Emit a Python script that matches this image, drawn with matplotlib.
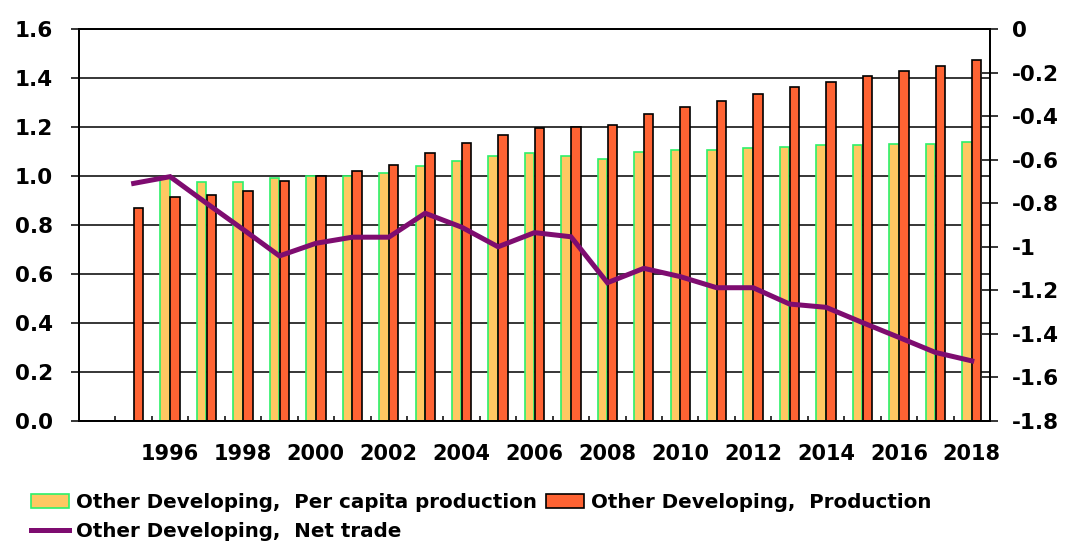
import numpy as np
import matplotlib
matplotlib.use("Agg")
import matplotlib.pyplot as plt

plt.rcParams["font.family"] = ["DejaVu Sans"]
plt.rcParams["font.weight"] = "bold"

years = np.arange(1995, 2019)

per_capita = [np.nan, 0.99, 0.974, 0.974, 0.993, 1.0, 1.0, 1.013, 1.041, 1.061,
              1.082, 1.095, 1.082, 1.068, 1.099, 1.107, 1.106, 1.113, 1.12,
              1.127, 1.127, 1.132, 1.132, 1.14]

production = [0.868, 0.914, 0.922, 0.94, 0.98, 1.0, 1.019, 1.046, 1.094, 1.133,
              1.167, 1.195, 1.201, 1.209, 1.254, 1.283, 1.307, 1.335, 1.362,
              1.382, 1.408, 1.429, 1.449, 1.475]

net_trade = [-0.709, -0.678, -0.80, -0.92, -1.042, -0.984, -0.956, -0.956,
             -0.846, -0.91, -1.0, -0.935, -0.954, -1.165, -1.099, -1.137,
             -1.188, -1.188, -1.263, -1.278, -1.348, -1.416, -1.485, -1.524]

left_ticks = [0.0, 0.2, 0.4, 0.6, 0.8, 1.0, 1.2, 1.4, 1.6]
left_labels = ["0.0", "0.2", "0.4", "0.6", "0.8", "1.0", "1.2", "1.4", "1.6"]
right_ticks = [0, -0.2, -0.4, -0.6, -0.8, -1.0, -1.2, -1.4, -1.6, -1.8]
right_labels = ["0", "-0.2", "-0.4", "-0.6", "-0.8", "-1", "-1.2", "-1.4", "-1.6", "-1.8"]
year_labels = [1996, 1998, 2000, 2002, 2004, 2006, 2008, 2010, 2012, 2014, 2016, 2018]

fig = plt.figure(figsize=(10.66, 5.42), dpi=100)
ax = fig.add_axes([79 / 1066, 121 / 542, 911 / 1066, 392 / 542])

bar_w = 0.26
ax.bar(years - 0.135, per_capita, width=bar_w, color="#FFC862",
       edgecolor="#2EF06A", linewidth=1.2, zorder=2,
       label="Other Developing,  Per capita production")
ax.bar(years + 0.135, production, width=bar_w, color="#FF6333",
       edgecolor="black", linewidth=1.2, zorder=2,
       label="Other Developing,  Production")

ax.set_xlim(1993.5, 2018.5)
ax.set_ylim(0, 1.6)
ax.set_yticks(left_ticks)
ax.set_yticklabels(left_labels)
ax.yaxis.grid(True, color="black", linewidth=1.1)
ax.set_axisbelow(True)

ax.set_xticks(year_labels)
ax.set_xticklabels([str(y) for y in year_labels])
ax.set_xticks(np.arange(1994.5, 2018, 1), minor=True)
ax.tick_params(axis="x", which="major", length=0, pad=16.5, labelsize=15)
ax.tick_params(axis="x", which="minor", direction="in", length=3.6, width=1.1)
ax.tick_params(axis="y", direction="out", length=5.8, width=1.1, pad=13, labelsize=15.5)

for s in ax.spines.values():
    s.set_linewidth(1.3)

ax2 = ax.twinx()
ax2.plot(years, net_trade, color="#7E0C70", linewidth=3.6, zorder=3,
         solid_joinstyle="miter", label="Other Developing,  Net trade")
ax2.set_ylim(-1.8, 0)
ax2.set_yticks(right_ticks)
ax2.set_yticklabels(right_labels)
ax2.tick_params(axis="y", direction="inout", length=12, width=1.1, pad=10, labelsize=15.5)
for s in ax2.spines.values():
    s.set_linewidth(1.3)

h1, l1 = ax.get_legend_handles_labels()
h2, l2 = ax2.get_legend_handles_labels()
handles = [h1[0], h2[0], h1[1]]
labels = [l1[0], l2[0], l1[1]]
fig.legend(handles, labels, ncol=2, loc="upper left",
           bbox_to_anchor=(23 / 1066, 1 - 485 / 542), frameon=False,
           fontsize=14.3, handlelength=1.9, handleheight=0.75,
           handletextpad=0.35, columnspacing=0.5, labelspacing=0.5,
           borderaxespad=0)

fig.savefig("out.png", dpi=100)
